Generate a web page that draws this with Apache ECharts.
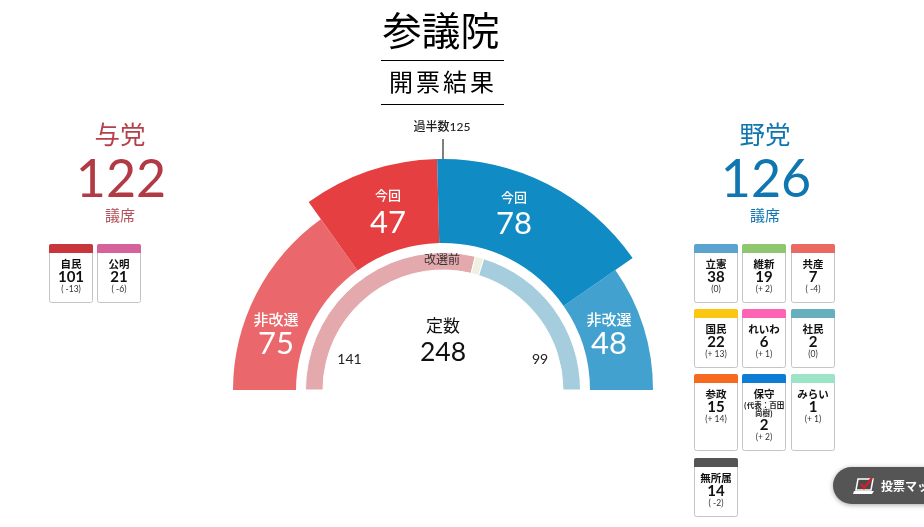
<!DOCTYPE html>
<html><head><meta charset="utf-8">
<style>html,body{margin:0;padding:0;background:#fff;overflow:hidden}#c{width:924px;height:527px}</style>
<script src="https://cdn.jsdelivr.net/npm/echarts@6/dist/echarts.min.js"></script>
</head><body><div id="c"></div>
<script>
// ---- data ----
const totalSeats = 248;
const majority = 125;
const outerNames = ['与党非改選', '与党今回', '野党今回', '野党非改選'];
const outerValues = [75, 47, 78, 48];
const beforeNames = ['与党', '欠員', '野党'];
const beforeValues = [141, 5, 99];
const rulingTotal = 122;
const oppositionTotal = 126;
const rulingNames = ['自民', '公明'];
const rulingSeats = [101, 21];
const rulingDelta = ['( -13)', '( -6)'];
const oppNames = ['立憲', '維新', '共産', '国民', 'れいわ', '社民', '参政', '保守', 'みらい', '無所属'];
const oppNotes = ['', '', '', '', '', '', '', '(代表：百田\n尚樹)', '', ''];
const oppSeats = [38, 19, 7, 22, 6, 2, 15, 2, 1, 14];
const oppDelta = ['(0)', '(+ 2)', '( -4)', '(+ 13)', '(+ 1)', '(0)', '(+ 14)', '(+ 2)', '(+ 1)', '( -2)'];

// ---- styles / layout ----
const rulingCols = ['#c8353b', '#d5629a'];
const oppCols = ['#5aa3d1', '#8fc76f', '#ea6a63', '#fbc711', '#fd64b4', '#68afbd', '#f66a1f', '#0f7cd3', '#9de3c8', '#555555'];
const F = "Lato,'Noto Sans CJK JP',sans-serif";
const CJK = "'Noto Sans CJK JP',sans-serif";
const outerCols = ['#ea686c', '#e63f41', '#108bc3', '#43a1cf'];
const beforeCols = ['#e4a9ad', '#eef0e2', '#a6cddd'];
const center = [443, 390];
const none = {color: 'rgba(0,0,0,0)', borderWidth: 0};

function ring(radius, vals, cols, showIdx, border) {
  const data = vals.map((v, i) => ({
    value: v,
    itemStyle: showIdx.includes(i) ? {color: cols[i], borderColor: '#fff', borderWidth: border} : none
  }));
  data.push({value: vals.reduce((a, b) => a + b, 0), itemStyle: none});
  return {type: 'pie', center, radius, startAngle: 180, clockwise: true, silent: true,
    animation: false, label: {show: false}, labelLine: {show: false}, emphasis: {disabled: true}, data};
}

const g = [];
function T(text, x, y, font, fill, extra) {
  g.push({type: 'text', z: 20, silent: true, style: Object.assign({text, x, y, font, fill,
    textAlign: 'center', textVerticalAlign: 'middle'}, extra || {})});
}
function L(x1, y1, x2, y2, stroke, lineWidth) {
  g.push({type: 'line', z: 20, silent: true, shape: {x1, y1, x2, y2}, style: {stroke, lineWidth}});
}
// Title
T('参議院', 441, 30, '400 39px ' + CJK, '#000');
L(381, 60.5, 504, 60.5, '#000', 1);
const subTitle = '開票結果';
[401, 428, 455, 482].forEach((x, i) => T(subTitle[i], x, 82, '400 24px ' + CJK, '#000'));
L(381, 104.5, 504, 104.5, '#000', 1);
// Majority marker
T('過半数' + majority, 442, 127, '500 12px ' + F, '#222');
L(443, 139, 443, 159, '#555', 1.5);
// Side totals
T('与党', 120, 134, '400 25.5px ' + CJK, '#b5404a');
T(String(rulingTotal), 121, 180, '400 52px ' + F, '#b23a45');
T('議席', 120, 215, '400 15px ' + CJK, '#b5505a');
T('野党', 765, 134, '400 25.5px ' + CJK, '#0f76b0');
T(String(oppositionTotal), 766, 180, '400 52px ' + F, '#0f76b0');
T('議席', 765, 215, '400 15px ' + CJK, '#0f76b0');
// Arc labels
const labelPos = [[276, 319, 344, '非改選'], [388, 195, 223, '今回'], [514, 197, 224, '今回'], [609, 319, 344, '非改選']];
labelPos.forEach((p, i) => {
  T(p[3], p[0], p[1], '500 ' + (p[3].length > 2 ? 15 : 13) + 'px ' + CJK, '#fff');
  T(String(outerValues[i]), p[0], p[2], '400 31px ' + F, '#fff');
});
// Centre labels
T('改選前', 442, 259, '400 12px ' + CJK, '#333');
T('定数', 443, 326, '400 17px ' + CJK, '#111');
T(String(totalSeats), 443, 352, '400 26.5px ' + F, '#111');
T(String(beforeValues[0]), 349.5, 359, '400 14px ' + F, '#222');
T(String(beforeValues[2]), 540, 359, '400 14px ' + F, '#222');

// Cards
function card(x, y, w, h, col, name, note, seats, delta) {
  g.push({type: 'rect', z: 15, silent: true, shape: {x: x + .5, y: y + .5, width: w, height: h, r: 2},
    style: {fill: '#fff', stroke: '#c4c4c4', lineWidth: 1}});
  g.push({type: 'rect', z: 16, silent: true, shape: {x: x, y: y, width: w + 1, height: 9, r: [2, 2, 0, 0]}, style: {fill: col}});
  const cx = x + w / 2 + .5;
  T(name, cx, y + 20, '700 10.5px ' + CJK, '#111');
  let yy = y + 33;
  if (note) {
    T(note, cx, y + 35, '700 7.5px ' + CJK, '#222', {lineHeight: 8});
    yy = y + 51;
  }
  T(String(seats), cx, yy, '700 15px ' + F, '#111');
  T(delta, cx, yy + 12, '400 8.5px ' + F, '#333');
}
rulingNames.forEach((n, i) => card(49 + i * 48, 244, 43, 58, rulingCols[i], n, '', rulingSeats[i], rulingDelta[i]));
const colX = [694, 742, 791];
const rowY = [244, 309, 374, 458];
const rowH = [58, 58, 76, 58];
oppNames.forEach((n, i) => {
  const r = Math.floor(i / 3), c = i % 3;
  card(colX[c], rowY[r], 43, rowH[r], oppCols[i], n, oppNotes[i], oppSeats[i], oppDelta[i]);
});

// Button bottom right
g.push({type: 'rect', z: 15, silent: true, shape: {x: 833, y: 467, width: 130, height: 37, r: 18.5},
  style: {fill: '#555555', shadowBlur: 5, shadowColor: 'rgba(0,0,0,.35)', shadowOffsetY: 1}});
g.push({type: 'polygon', z: 16, silent: true, shape: {points: [[858, 479], [873, 479], [871, 490], [856, 490]]},
  style: {fill: '#4a4a4a', stroke: '#fff', lineWidth: 1.5}});
g.push({type: 'polygon', z: 16, silent: true, shape: {points: [[854, 491], [874, 491], [872, 494], [853, 494]]}, style: {fill: '#fff'}});
g.push({type: 'polyline', z: 17, silent: true, shape: {points: [[861, 484], [864, 488], [872, 478]]},
  style: {stroke: '#d0202a', lineWidth: 2.6, fill: null}});
g.push({type: 'text', z: 16, silent: true, style: {text: '投票マッチング', x: 881, y: 486, font: '700 12px ' + CJK, fill: '#fff',
  textAlign: 'left', textVerticalAlign: 'middle'}});

const chart = echarts.init(document.getElementById('c'), null, {renderer: 'canvas'});
chart.setOption({
  animation: false,
  backgroundColor: '#fff',
  series: [
    ring([147, 210], outerValues, outerCols, [0, 3], 0),
    ring([147, 231], outerValues, outerCols, [1, 2], 0),
    ring([120, 137.5], beforeValues, beforeCols, [0, 1, 2], 1)
  ],
  graphic: {elements: g}
});
</script></body></html>
